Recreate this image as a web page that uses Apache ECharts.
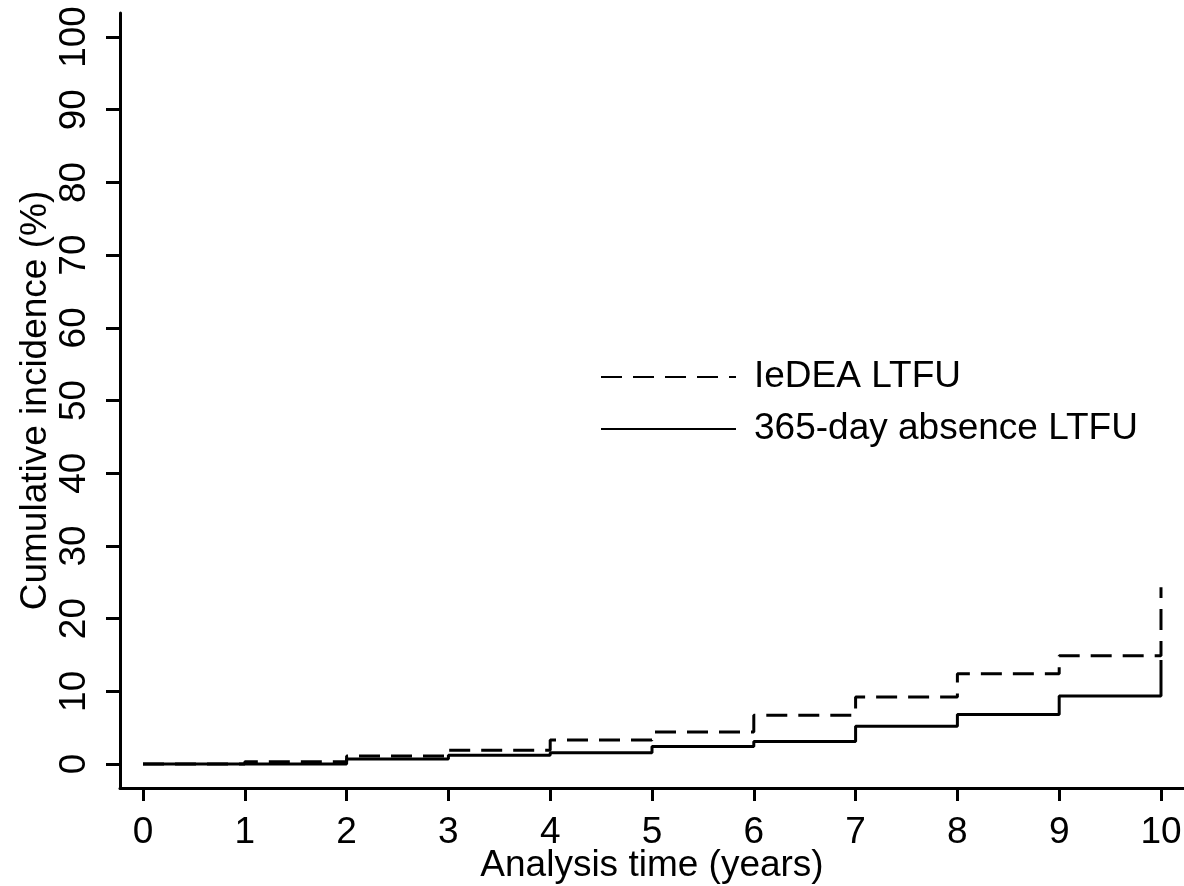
<!DOCTYPE html>
<html>
<head>
<meta charset="utf-8">
<script src="https://cdn.jsdelivr.net/npm/echarts@6/dist/echarts.min.js"></script>
<style>
  html, body { margin: 0; padding: 0; background: #fff; }
  #chart { width: 1184px; height: 886px; }
</style>
</head>
<body>
<div id="chart"></div>
<script>
// 数据
const years = [0, 1, 2, 3, 4, 5, 6, 7, 8, 9, 10];
const iedeaLtfu = [0, 0.3, 1.1, 1.9, 3.3, 4.4, 6.7, 9.2, 12.4, 14.9, 24.3];
const absenceLtfu = [0, 0, 0.7, 1.2, 1.55, 2.4, 3.1, 5.2, 6.8, 9.35, 14.3];
const xTicks = [0, 1, 2, 3, 4, 5, 6, 7, 8, 9, 10];
const yTicks = [0, 10, 20, 30, 40, 50, 60, 70, 80, 90, 100];

const font = 'Liberation Sans';
const fs = 37;

const myChart = echarts.init(document.getElementById('chart'));

let option = {
    backgroundColor: '#fff',
    animation: false,
    grid: {
        left: 120,
        right: 0,
        top: 13,
        bottom: 98,
        outerBoundsMode: 'none'
    },
    //图例
    legend: {
        orient: 'vertical',
        left: 595,
        top: 352,
        itemWidth: 135,
        itemHeight: 14,
        itemGap: 12,
        itemStyle: { opacity: 0 },
        textStyle: {
            fontFamily: font,
            fontSize: fs,
            color: '#000',
            lineHeight: 40,
            padding: [0, 0, 0, 13]
        },
        data: ['IeDEA LTFU', '365-day absence LTFU']
    },
    xAxis: {
        type: 'value',
        min: -0.226,
        max: 10.226,
        name: 'Analysis time (years)',
        nameLocation: 'middle',
        nameGap: 59,
        nameMoveOverlap: false,
        nameTextStyle: { fontFamily: font, fontSize: fs, color: '#000' },
        splitLine: { show: false },
        axisLine: { onZero: false, lineStyle: { color: '#000', width: 3 } },
        axisTick: {
            length: 13,
            lineStyle: { color: '#000', width: 3 },
            customValues: xTicks
        },
        axisLabel: {
            margin: 26,
            fontFamily: font,
            fontSize: fs,
            color: '#000',
            customValues: xTicks
        }
    },
    yAxis: {
        type: 'value',
        min: -3.3,
        max: 103.3,
        name: 'Cumulative incidence (%)',
        nameLocation: 'middle',
        nameGap: 66,
        nameMoveOverlap: false,
        nameTextStyle: { fontFamily: font, fontSize: fs, color: '#000' },
        splitLine: { show: false },
        axisLine: { show: true, onZero: false, lineStyle: { color: '#000', width: 3 } },
        axisTick: {
            show: true,
            length: 14,
            lineStyle: { color: '#000', width: 3 },
            customValues: yTicks
        },
        axisLabel: {
            rotate: 90,
            margin: 27,
            fontFamily: font,
            fontSize: fs,
            color: '#000',
            customValues: yTicks
        }
    },
    series: [
        {
            name: 'IeDEA LTFU',
            type: 'line',
            step: 'end',
            symbol: 'none',
            color: '#000',
            lineStyle: { color: '#000', width: 3, type: [21, 11] },
            data: years.map((x, i) => [x, iedeaLtfu[i]])
        },
        {
            name: '365-day absence LTFU',
            type: 'line',
            step: 'end',
            symbol: 'none',
            color: '#000',
            lineStyle: { color: '#000', width: 3, type: 'solid' },
            data: years.map((x, i) => [x, absenceLtfu[i]])
        }
    ]
};

myChart.setOption(option);
</script>
</body>
</html>
